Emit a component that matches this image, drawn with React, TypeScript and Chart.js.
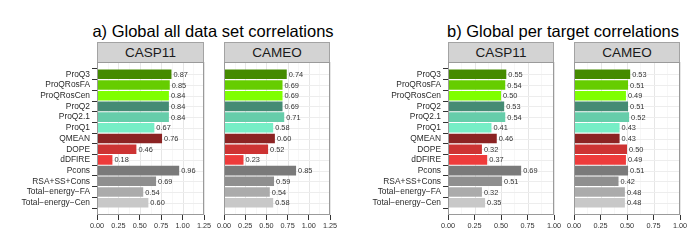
import React, { useEffect, useRef } from "react";
import { Chart, registerables } from "chart.js";

Chart.register(...registerables);

const FONT = '"Liberation Sans", Arial, Helvetica, sans-serif';

const methods = [
  "ProQ3",
  "ProQRosFA",
  "ProQRosCen",
  "ProQ2",
  "ProQ2.1",
  "ProQ1",
  "QMEAN",
  "DOPE",
  "dDFIRE",
  "Pcons",
  "RSA+SS+Cons",
  "Total\u2212energy\u2212FA",
  "Total\u2212energy\u2212Cen",
];

const methodColors = [
  "#458B00",
  "#66CD00",
  "#7FFF00",
  "#458B74",
  "#66CDAA",
  "#76EEC6",
  "#8B2323",
  "#CD3333",
  "#EE3B3B",
  "#7A7A7A",
  "#8F8F8F",
  "#ABABAB",
  "#C8C8C8",
];

// a) Global all data set correlations
const allCasp11 = [0.87, 0.85, 0.84, 0.84, 0.84, 0.67, 0.76, 0.46, 0.18, 0.96, 0.69, 0.54, 0.6];
const allCameo = [0.74, 0.69, 0.69, 0.69, 0.71, 0.58, 0.6, 0.52, 0.23, 0.85, 0.59, 0.54, 0.58];
// b) Global per target correlations
const perTargetCasp11 = [0.55, 0.54, 0.5, 0.53, 0.54, 0.41, 0.46, 0.32, 0.37, 0.69, 0.51, 0.32, 0.35];
const perTargetCameo = [0.53, 0.51, 0.49, 0.51, 0.52, 0.43, 0.43, 0.5, 0.49, 0.51, 0.42, 0.48, 0.48];

const allTicks = [0, 0.25, 0.5, 0.75, 1.0, 1.25];
const perTargetTicks = [0, 0.25, 0.5, 0.75, 1.0];

const PLOT_TOP = 62;
const PLOT_BOTTOM = 215;
const PAD_TOP = 10;
const PAD_RIGHT = 12;
const XAXIS_H = 22;

type PanelProps = {
  values: number[];
  ticks: number[];
  showY: boolean;
  left: number;
  right: number;
  yWidth: number;
};

function Panel({ values, ticks, showY, left, right, yWidth }: PanelProps) {
  const ref = useRef<HTMLCanvasElement | null>(null);
  const canvasLeft = left - yWidth;
  const width = yWidth + (right - left) + PAD_RIGHT;
  const height = PAD_TOP + (PLOT_BOTTOM - PLOT_TOP) + XAXIS_H;
  const xMax = ticks[ticks.length - 1];
  const minorTicks: number[] = [];
  for (let i = 0; i < ticks.length - 1; i++) minorTicks.push((ticks[i] + ticks[i + 1]) / 2);

  useEffect(() => {
    if (!ref.current) return;
    const gridPlugin = {
      id: "panelGrid",
      beforeDatasetsDraw(chart: any) {
        const { ctx, chartArea } = chart;
        const xs = chart.scales.x;
        const ys = chart.scales.y;
        ctx.save();
        ctx.fillStyle = "#ffffff";
        ctx.fillRect(chartArea.left, chartArea.top, chartArea.right - chartArea.left, chartArea.bottom - chartArea.top);
        ctx.strokeStyle = "#f2f2f2";
        ctx.lineWidth = 0.6;
        minorTicks.forEach((v) => {
          const px = Math.round(xs.getPixelForValue(v)) + 0.5;
          ctx.beginPath();
          ctx.moveTo(px, chartArea.top);
          ctx.lineTo(px, chartArea.bottom);
          ctx.stroke();
        });
        ctx.strokeStyle = "#e6e6e6";
        ctx.lineWidth = 1;
        ticks.forEach((v) => {
          const px = Math.round(xs.getPixelForValue(v)) + 0.5;
          ctx.beginPath();
          ctx.moveTo(px, chartArea.top);
          ctx.lineTo(px, chartArea.bottom);
          ctx.stroke();
        });
        ctx.strokeStyle = "#ededed";
        methods.forEach((_, i) => {
          const py = Math.round(ys.getPixelForValue(i)) + 0.5;
          ctx.beginPath();
          ctx.moveTo(chartArea.left, py);
          ctx.lineTo(chartArea.right, py);
          ctx.stroke();
        });
        ctx.restore();
      },
      afterDatasetsDraw(chart: any) {
        const { ctx, chartArea } = chart;
        const meta = chart.getDatasetMeta(0);
        ctx.save();
        ctx.font = `7.4px ${FONT}`;
        ctx.fillStyle = "#333333";
        ctx.textAlign = "left";
        ctx.textBaseline = "middle";
        meta.data.forEach((bar: any, i: number) => {
          ctx.fillText(values[i].toFixed(2), bar.x + 2, bar.y + 0.5);
        });
        ctx.strokeStyle = "#9a9a9a";
        ctx.lineWidth = 1;
        ctx.strokeRect(
          Math.round(chartArea.left) + 0.5,
          Math.round(chartArea.top) + 0.5,
          Math.round(chartArea.right - chartArea.left) - 1,
          Math.round(chartArea.bottom - chartArea.top) - 1
        );
        ctx.restore();
      },
    };

    const chart = new Chart(ref.current, {
      type: "bar",
      data: {
        datasets: [
          {
            data: values.map((v, i) => ({ x: v, y: i })),
            backgroundColor: methodColors,
            borderWidth: 0,
            barPercentage: 0.9,
            categoryPercentage: 1,
          },
        ],
      },
      options: {
        indexAxis: "y",
        responsive: false,
        animation: false,
        devicePixelRatio: 1,
        layout: { padding: { top: PAD_TOP, right: PAD_RIGHT, left: 0, bottom: 0 } },
        plugins: { legend: { display: false }, tooltip: { enabled: false } },
        scales: {
          x: {
            type: "linear",
            position: "bottom",
            min: 0,
            max: xMax,
            afterBuildTicks: (s: any) => {
              s.ticks = ticks.map((v) => ({ value: v }));
            },
            afterFit: (s: any) => {
              s.height = XAXIS_H;
            },
            ticks: {
              autoSkip: false,
              maxRotation: 0,
              padding: 1.5,
              color: "#333333",
              font: { family: FONT, size: 7.3 },
              callback: (v: any) => Number(v).toFixed(2),
            },
            grid: { drawOnChartArea: false, drawTicks: true, tickLength: 5, tickColor: "#333333", tickWidth: 1 },
            border: { display: false },
          },
          y: {
            type: "linear",
            min: -0.6,
            max: methods.length - 1 + 0.6,
            reverse: true,
            afterBuildTicks: (s: any) => {
              s.ticks = methods.map((_, i) => ({ value: i }));
            },
            afterFit: (s: any) => {
              s.width = yWidth;
            },
            ticks: {
              display: showY,
              autoSkip: false,
              padding: 2,
              color: "#2b2b2b",
              font: { family: FONT, size: 8.4 },
              callback: (v: any) => methods[Math.round(Number(v))] ?? "",
            },
            grid: { drawOnChartArea: false, drawTicks: showY, tickLength: 5, tickColor: "#333333", tickWidth: 1 },
            border: { display: false },
          },
        },
      } as any,
      plugins: [gridPlugin],
    });
    return () => chart.destroy();
  }, []);

  return (
    <canvas
      ref={ref}
      width={width}
      height={height}
      style={{ position: "absolute", left: canvasLeft, top: PLOT_TOP - PAD_TOP, width, height }}
    />
  );
}

function Strip({ label, left, right }: { label: string; left: number; right: number }) {
  return (
    <div
      style={{
        position: "absolute",
        left,
        top: 42,
        width: right - left,
        height: 20,
        boxSizing: "border-box",
        background: "#d3d3d3",
        border: "1px solid #a3a3a3",
        borderBottom: "none",
        color: "#1a1a1a",
        fontFamily: FONT,
        fontSize: 13.5,
        lineHeight: "19px",
        textAlign: "center",
      }}
    >
      {label}
    </div>
  );
}

function Title({ text, center }: { text: string; center: number }) {
  return (
    <div
      style={{
        position: "absolute",
        left: center - 170,
        width: 340,
        top: 23,
        height: 16,
        lineHeight: "16px",
        fontFamily: FONT,
        fontSize: 16.5,
        color: "#000",
        textAlign: "center",
        whiteSpace: "nowrap",
      }}
    >
      {text}
    </div>
  );
}

export default function App() {
  return (
    <div style={{ position: "absolute", left: 0, top: 0, width: 700, height: 250, background: "#fff", overflow: "hidden" }}>
      <Title text="a) Global all data set correlations" center={213} />
      <Title text="b) Global per target correlations" center={563} />
      <Strip label="CASP11" left={97} right={204} />
      <Strip label="CAMEO" left={224} right={330} />
      <Strip label="CASP11" left={448} right={554} />
      <Strip label="CAMEO" left={574} right={680} />
      <Panel values={allCasp11} ticks={allTicks} showY={true} left={97} right={204} yWidth={97} />
      <Panel values={allCameo} ticks={allTicks} showY={false} left={224} right={330} yWidth={14} />
      <Panel values={perTargetCasp11} ticks={perTargetTicks} showY={true} left={448} right={554} yWidth={98} />
      <Panel values={perTargetCameo} ticks={perTargetTicks} showY={false} left={574} right={680} yWidth={14} />
    </div>
  );
}
